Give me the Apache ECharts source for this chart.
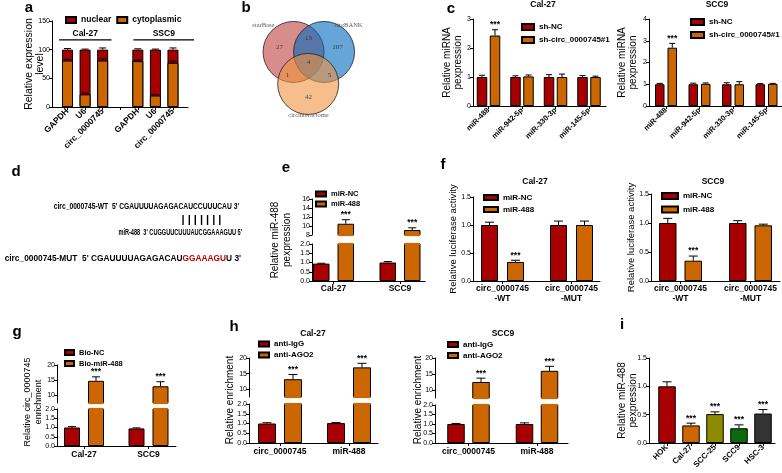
<!DOCTYPE html>
<html>
<head>
<meta charset="utf-8">
<script src="https://cdn.jsdelivr.net/npm/echarts@6.0.0/dist/echarts.min.js"></script>
<style>html,body{margin:0;padding:0;background:#fff;}#chart{width:782px;height:473px;}</style>
</head>
<body>
<div id="chart"></div>
<script>
// ================= DATA =================
// (a) nuclear / cytoplasmic fractionation
const aCategories = ['GAPDH', 'U6', 'circ_0000745', '', 'GAPDH', 'U6', 'circ_0000745'];
const aCytoplasmic = [81, 22, 81, null, 80, 20, 77];
const aCytoplasmicErr = [2, 2, 3, null, 2, 1.5, 3];
const aNuclear = [19, 78, 19, null, 20, 80, 23];
const aNuclearErr = [2, 1, 3, null, 1.5, 1, 3];
const aGroupNames = ['Cal-27', 'SSC9'];
const aSeriesNames = ['nuclear', 'cytoplasmic'];
// (b) Venn
const bSetNames = ['starBase', 'circBANK', 'circinteractome'];
const bRegionCounts = [27, 13, 107, 4, 1, 5, 42];
// (c)
const cMiRNAs = ['miR-488', 'miR-942-5p', 'miR-330-3p', 'miR-145-5p'];
const cSeriesNames = ['sh-NC', 'sh-circ_0000745#1'];
const cCal27ShNC = [1.00, 1.00, 1.00, 1.00];
const cCal27ShNCErr = [0.06, 0.04, 0.08, 0.05];
const cCal27ShCirc = [2.43, 1.02, 1.00, 1.00];
const cCal27ShCircErr = [0.20, 0.05, 0.10, 0.03];
const cSCC9ShNC = [1.00, 1.00, 1.00, 1.00];
const cSCC9ShNCErr = [0.04, 0.05, 0.07, 0.03];
const cSCC9ShCirc = [2.68, 1.02, 1.00, 1.02];
const cSCC9ShCircErr = [0.20, 0.04, 0.12, 0.02];
const cSignificance = ['***', '', '', ''];
// (d) sequences
const dSeqWT = ["circ_0000745-WT", "5' CGAUUUUAGAGACAUCCUUUCAU 3'"];
const dSeqMiR = ["miR-488", "3' CUGGUUCUUUAUCGGAAAGUU 5'"];
const dSeqMUT = ["circ_0000745-MUT", "5' CGAUUUUAGAGACAU", "GGAAAGU", "U 3'"];
// (e)
const eCells = ['Cal-27', 'SCC9'];
const eSeriesNames = ['miR-NC', 'miR-488'];
const eMiRNC = [0.94, 1.00];
const eMiRNCErr = [0.02, 0.05];
const eMiR488 = [10.5, 9.1];
const eMiR488Err = [0.9, 0.5];
const eSignificance = ['***', '***'];
// (f)
const fReporters = ['circ_0000745\n-WT', 'circ_0000745\n-MUT'];
const fCal27NC = [1.00, 1.00];
const fCal27NCErr = [0.05, 0.07];
const fCal27Mir = [0.34, 1.00];
const fCal27MirErr = [0.03, 0.07];
const fSCC9NC = [1.00, 1.00];
const fSCC9NCErr = [0.08, 0.04];
const fSCC9Mir = [0.35, 0.96];
const fSCC9MirErr = [0.08, 0.02];
const fSignificance = ['***', ''];
// (g)
const gCells = ['Cal-27', 'SCC9'];
const gSeriesNames = ['Bio-NC', 'Bio-miR-488'];
const gBioNC = [1.00, 0.95];
const gBioNCErr = [0.05, 0.03];
const gBioMir = [14.8, 13.0];
const gBioMirErr = [1.3, 1.5];
const gSignificance = ['***', '***'];
// (h)
const hTargets = ['circ_0000745', 'miR-488'];
const hSeriesNames = ['anti-IgG', 'anti-AGO2'];
const hCal27IgG = [1.00, 1.02];
const hCal27IgGErr = [0.04, 0.03];
const hCal27AGO2 = [13.2, 17.0];
const hCal27AGO2Err = [1.5, 1.3];
const hSCC9IgG = [1.00, 1.00];
const hSCC9IgGErr = [0.03, 0.06];
const hSCC9AGO2 = [12.5, 16.0];
const hSCC9AGO2Err = [1.2, 1.4];
const hSignificance = ['***', '***'];
// (i)
const iCells = ['HOK', 'Cal-27', 'SCC-25', 'SCC9', 'HSC-3'];
const iValues = [1.00, 0.31, 0.51, 0.26, 0.52];
const iErr = [0.08, 0.04, 0.04, 0.06, 0.07];
const iSignificance = ['', '***', '***', '***', '***'];

// ================= STYLE / LAYOUT =================
const F = '"Liberation Sans", Arial, Helvetica, sans-serif';
const FSERIF = '"Liberation Serif", "Times New Roman", serif';
const RED = '#A80000', ORANGE = '#CC6600';
const iColors = ['#A80000', '#CC6600', '#8C8A00', '#0B6A0B', '#333333'];

const opt = {animation: false, backgroundColor: '#ffffff', textStyle: {fontFamily: F},
  grid: [], xAxis: [], yAxis: [], series: [], legend: [], graphic: []};

function addGrid(L, R, T, B) {
  opt.grid.push({left: L, top: T, width: R - L, height: B - T, containLabel: false, outerBoundsMode: 'none'});
  return opt.grid.length - 1;
}
function addX(gi, L, R, c0, step, cats, o) {
  o = o || {};
  const idx = cats.map((c, i) => i);
  opt.xAxis.push({gridIndex: gi, type: 'value', min: (L - c0) / step, max: (R - c0) / step, show: o.show !== false,
    axisLine: {show: true, onZero: false, lineStyle: {color: '#000', width: 1}},
    axisTick: {show: true, length: 3, customValues: idx, lineStyle: {color: '#000', width: 1}},
    axisLabel: {show: true, customValues: idx.filter(i => cats[i] !== ''), formatter: v => cats[Math.round(v)] || '',
      rotate: o.rotate || 0, fontFamily: F, fontWeight: 'bold', fontSize: o.fs || 8.5, color: '#000',
      margin: o.margin == null ? 3 : o.margin, lineHeight: o.lh || 10, hideOverlap: false},
    splitLine: {show: false}});
  return opt.xAxis.length - 1;
}
function addY(gi, min, max, o) {
  const ax = {gridIndex: gi, type: 'value', min: min, max: max,
    axisLine: {show: true, onZero: false, lineStyle: {color: '#000', width: 1}},
    axisTick: {show: true, length: 3, lineStyle: {color: '#000', width: 1}},
    axisLabel: {fontFamily: F, fontSize: o.fs || 7, color: '#000', margin: 2, formatter: o.fmt || (v => String(v))},
    splitLine: {show: false}};
  if (o.interval != null) ax.interval = o.interval;
  if (o.ticks) { ax.axisTick.customValues = o.ticks; ax.axisLabel.customValues = o.ticks; }
  if (o.name) {
    Object.assign(ax, {name: o.name, nameLocation: 'middle', nameGap: o.nameGap, nameRotate: 90, nameMoveOverlap: false,
      nameTextStyle: {fontFamily: F, fontSize: o.nameFs || 10, color: '#000', lineHeight: o.nameLh || 11}});
  }
  opt.yAxis.push(ax);
  return opt.yAxis.length - 1;
}
function addBars(xi, yi, name, vals, color, w, gap, colors) {
  opt.series.push({type: 'bar', name: name, xAxisIndex: xi, yAxisIndex: yi, barWidth: w, barGap: gap, clip: true, silent: true,
    itemStyle: {color: color, borderColor: '#000', borderWidth: 1},
    data: vals.map((v, i) => v == null ? null : (colors ? {value: [i, v], itemStyle: {color: colors[i]}} : [i, v])).filter(d => d !== null)});
}
// error bars + significance marks; also hides the bar outline where a broken axis cuts a bar
function addErr(xi, yi, vals, errs, off, capW, yMin, yMax, sig, sigFs, barW, fill) {
  opt.series.push({type: 'custom', xAxisIndex: xi, yAxisIndex: yi, silent: true, clip: false, z: 5,
    encode: {x: 0, y: 1},
    data: vals.map((v, i) => v == null ? null : [i, v, errs[i]]).filter(d => d !== null),
    renderItem: function (params, api) {
      const x = api.value(0), v = api.value(1), e = api.value(2);
      const ch = [];
      const fc = Array.isArray(fill) ? fill[Math.round(x)] : fill;
      if (barW && v > yMax) {
        const pt = api.coord([x, yMax]);
        ch.push({type: 'line', shape: {x1: pt[0] + off - barW / 2 + 0.6, y1: pt[1], x2: pt[0] + off + barW / 2 - 0.6, y2: pt[1]}, style: {stroke: fc, lineWidth: 2.2}});
      }
      if (barW && yMin > 0 && v > yMin) {
        const pb = api.coord([x, yMin]);
        ch.push({type: 'line', shape: {x1: pb[0] + off - barW / 2 + 0.6, y1: pb[1], x2: pb[0] + off + barW / 2 - 0.6, y2: pb[1]}, style: {stroke: fc, lineWidth: 2.2}});
      }
      if (v >= yMin && v <= yMax) {
        const p0 = api.coord([x, v]);
        const p1 = api.coord([x, Math.min(v + e, yMax)]);
        const cx = p0[0] + off;
        ch.push({type: 'line', shape: {x1: cx, y1: p0[1], x2: cx, y2: p1[1]}, style: {stroke: '#000', lineWidth: 1}});
        ch.push({type: 'line', shape: {x1: cx - capW / 2, y1: p1[1], x2: cx + capW / 2, y2: p1[1]}, style: {stroke: '#000', lineWidth: 1}});
        const s = sig ? sig[Math.round(x)] : '';
        if (s) ch.push({type: 'text', style: {text: s, x: cx, y: p1[1] - 0.5, align: 'center', verticalAlign: 'bottom',
          font: 'bold ' + (sigFs || 8.5) + 'px ' + F, fill: '#000'}});
      }
      return {type: 'group', children: ch};
    }});
}
function panel(p) {
  const n = p.series.length;
  const gapPct = n > 1 ? (p.gap / p.w * 100) + '%' : '0%';
  p.segs.forEach((s, si) => {
    const gi = addGrid(p.L, p.R, s.T, s.B);
    const xi = addX(gi, p.L, p.R, p.c0, p.step, p.cats, Object.assign({}, p.xOpt, {show: si === 0}));
    const yi = addY(gi, s.min, s.max, s.yOpt);
    p.series.forEach((sr, k) => {
      addBars(xi, yi, sr.name, sr.vals, sr.color, p.w, gapPct, sr.colors);
      const off = (k - (n - 1) / 2) * (p.w + p.gap);
      addErr(xi, yi, sr.vals, sr.errs, off, p.capW || p.w * 0.5, s.min, s.max, sr.sig, p.sigFs,
        p.segs.length > 1 ? p.w : 0, sr.colors || sr.color);
    });
  });
}
function addLegend(names, left, top, o) {
  opt.legend.push({show: true, data: names, left: left, top: top, orient: o.orient || 'vertical', padding: 0,
    itemWidth: o.w, itemHeight: o.h, itemGap: o.gap, icon: 'rect', selectedMode: false,
    textStyle: {fontFamily: F, fontSize: o.fs, fontWeight: 'bold', color: '#000', lineHeight: o.lh}});
}
function gtext(text, x, y, o) {
  o = o || {};
  const st = {text: text, x: 0, y: 0, fill: o.color || '#000',
    font: (o.bold ? 'bold ' : '') + (o.fs || 10) + 'px ' + (o.family || F),
    align: o.align || 'center', verticalAlign: o.valign || 'middle'};
  if (o.lh) st.lineHeight = o.lh;
  if (o.rich) st.rich = o.rich;
  opt.graphic.push({type: 'text', x: x, y: y, rotation: o.rot || 0, scaleX: o.sx || 1, silent: true, style: st});
}
const FLIP = Math.PI / 2;

// ---------- (a) ----------
(function () {
  const L = 52, R = 188, c0 = 67.5, step = 17.58;
  const gi = addGrid(L, R, 21, 107);
  const xi = addX(gi, L, R, c0, step, aCategories, {rotate: 45, fs: 8.5, margin: 3});
  const yi = addY(gi, 0, 150, {interval: 50, name: 'Relative expression\nlevel', nameGap: 6, nameFs: 10.5, nameLh: 11.5});
  const totals = aCytoplasmic.map((c, i) => c == null ? null : c + aNuclear[i]);
  addBars(xi, yi, aSeriesNames[0], totals, RED, 11, '-100%');
  addBars(xi, yi, aSeriesNames[1], aCytoplasmic, ORANGE, 11, '-100%');
  addErr(xi, yi, aCytoplasmic, aCytoplasmicErr, 0, 7, 0, 150);
  addErr(xi, yi, totals, aNuclearErr, 0, 7, 0, 150);
  const groupSpan = [[-0.48, 2.5], [3.75, 7.2]];
  opt.series.push({type: 'custom', xAxisIndex: xi, yAxisIndex: yi, silent: true, clip: false,
    encode: {x: [0, 1], y: 2},
    data: aGroupNames.map((g, k) => [groupSpan[k][0], groupSpan[k][1], 117]),
    renderItem: function (params, api) {
      const p0 = api.coord([api.value(0), api.value(2)]), p1 = api.coord([api.value(1), api.value(2)]);
      return {type: 'group', children: [
        {type: 'line', shape: {x1: p0[0], y1: p0[1], x2: p1[0], y2: p1[1]}, style: {stroke: '#000', lineWidth: 1.3}},
        {type: 'text', style: {text: aGroupNames[params.dataIndex], x: (p0[0] + p1[0]) / 2, y: p0[1] - 2,
          align: 'center', verticalAlign: 'bottom', font: 'bold 8.5px ' + F, fill: '#000'}}]};
    }});
  addLegend(aSeriesNames, 65, 15, {orient: 'horizontal', w: 10, h: 6, gap: 5, fs: 8.5, lh: 10});
})();

// ---------- (b) Venn ----------
(function () {
  const V = {L: 217, R: 400, T: 1, B: 123, diam: 61,
    centers: [[-0.49, 0.33], [0.51, 0.33], [-0.01, -0.72]],
    labelPos: [[-1.48, 1.21], [1.31, 1.21], [0, -1.74]],
    regionPos: [[-0.95, 0.49], [0, 0.79], [0.95, 0.49], [0, 0], [-0.69, -0.43], [0.69, -0.43], [0, -1.15]],
    colors: ['rgba(192,63,63,0.6)', 'rgba(0,105,188,0.6)', 'rgba(238,147,63,0.6)']};
  const gi = addGrid(V.L, V.R, V.T, V.B);
  opt.xAxis.push({gridIndex: gi, type: 'value', min: -3, max: 3, show: false});
  opt.yAxis.push({gridIndex: gi, type: 'value', min: -2, max: 2, show: false});
  const xi = opt.xAxis.length - 1, yi = opt.yAxis.length - 1;
  bSetNames.forEach((nm, k) => opt.series.push({type: 'scatter', name: nm, xAxisIndex: xi, yAxisIndex: yi,
    symbol: 'circle', symbolSize: V.diam, clip: false, silent: true,
    itemStyle: {color: V.colors[k], borderColor: '#222', borderWidth: 0.8, opacity: 1}, data: [V.centers[k]]}));
  opt.series.push({type: 'scatter', name: 'counts', xAxisIndex: xi, yAxisIndex: yi, symbolSize: 1, clip: false, silent: true,
    itemStyle: {color: 'rgba(0,0,0,0)'}, z: 10,
    data: bRegionCounts.map((c, k) => ({value: V.regionPos[k], name: String(c)})),
    label: {show: true, position: 'inside', formatter: '{b}', fontFamily: FSERIF, fontSize: 7, color: '#222'}});
  opt.series.push({type: 'scatter', name: 'setLabels', xAxisIndex: xi, yAxisIndex: yi, symbolSize: 1, clip: false, silent: true,
    itemStyle: {color: 'rgba(0,0,0,0)'}, z: 10,
    data: bSetNames.map((s, k) => ({value: V.labelPos[k], name: s})),
    label: {show: true, position: 'inside', formatter: '{b}', fontFamily: FSERIF, fontSize: 6.5, color: '#333'}});
})();

// ---------- (c) ----------
panel({L: 473, R: 606, c0: 488.5, step: 33.5, cats: cMiRNAs, w: 10.5, gap: 2.5, capW: 6,
  xOpt: {rotate: 45, fs: 7.5, margin: 3},
  segs: [{T: 19, B: 106, min: 0, max: 3, yOpt: {interval: 1, name: 'Relative miRNA\npexpression', nameGap: 10, nameFs: 10, nameLh: 10.5}}],
  series: [{name: cSeriesNames[0], vals: cCal27ShNC, errs: cCal27ShNCErr, color: RED},
           {name: cSeriesNames[1], vals: cCal27ShCirc, errs: cCal27ShCircErr, color: ORANGE, sig: cSignificance}]});
panel({L: 649, R: 782, c0: 666, step: 33.5, cats: cMiRNAs, w: 9.5, gap: 3, capW: 6,
  xOpt: {rotate: 45, fs: 7.5, margin: 3},
  segs: [{T: 19, B: 106, min: 0, max: 4, yOpt: {interval: 1, name: 'Relative miRNA\npexpression', nameGap: 11, nameFs: 10, nameLh: 10.5}}],
  series: [{name: cSeriesNames[0], vals: cSCC9ShNC, errs: cSCC9ShNCErr, color: RED},
           {name: cSeriesNames[1], vals: cSCC9ShCirc, errs: cSCC9ShCircErr, color: ORANGE, sig: cSignificance}]});
addLegend(cSeriesNames, 521, 22, {w: 12, h: 6, gap: 3, fs: 8, lh: 10});
addLegend(cSeriesNames, 690, 17, {w: 13, h: 6, gap: 3, fs: 8, lh: 10});

// ---------- (e) ----------
panel({L: 312, R: 425, c0: 333.5, step: 66.5, cats: eCells, w: 16.5, gap: 8, capW: 8,
  xOpt: {fs: 8.5, margin: 3},
  segs: [{T: 244, B: 281, min: 0, max: 2, yOpt: {interval: 0.5, fmt: v => v.toFixed(1)}},
         {T: 199, B: 235, min: 8, max: 16, yOpt: {interval: 2}}],
  series: [{name: eSeriesNames[0], vals: eMiRNC, errs: eMiRNCErr, color: RED},
           {name: eSeriesNames[1], vals: eMiR488, errs: eMiR488Err, color: ORANGE, sig: eSignificance}]});
addLegend(eSeriesNames, 315, 189.5, {w: 10, h: 5, gap: 1, fs: 7.5, lh: 9});

// ---------- (f) ----------
panel({L: 473, R: 600, c0: 502.5, step: 69, cats: fReporters, w: 17, gap: 9, capW: 9,
  xOpt: {fs: 8.5, margin: 3, lh: 10},
  segs: [{T: 197, B: 281, min: 0, max: 1.5, yOpt: {interval: 0.5, fmt: v => v.toFixed(1), name: 'Relative luciferase activity', nameGap: 14, nameFs: 9.5}}],
  series: [{name: eSeriesNames[0], vals: fCal27NC, errs: fCal27NCErr, color: RED},
           {name: eSeriesNames[1], vals: fCal27Mir, errs: fCal27MirErr, color: ORANGE, sig: fSignificance}]});
panel({L: 651, R: 780, c0: 680.5, step: 70, cats: fReporters, w: 17.5, gap: 8, capW: 9,
  xOpt: {fs: 8.5, margin: 3, lh: 10},
  segs: [{T: 194, B: 281, min: 0, max: 1.5, yOpt: {interval: 0.5, fmt: v => v.toFixed(1), name: 'Relative luciferase activity', nameGap: 14, nameFs: 9.5}}],
  series: [{name: eSeriesNames[0], vals: fSCC9NC, errs: fSCC9NCErr, color: RED},
           {name: eSeriesNames[1], vals: fSCC9Mir, errs: fSCC9MirErr, color: ORANGE, sig: fSignificance}]});
addLegend(eSeriesNames, 483, 192.5, {w: 14, h: 5, gap: 2, fs: 8, lh: 10});
addLegend(eSeriesNames, 661, 191, {w: 16, h: 6, gap: 3.5, fs: 8, lh: 10});

// ---------- (g) ----------
panel({L: 57, R: 176, c0: 84, step: 64.5, cats: gCells, w: 16, gap: 8, capW: 8,
  xOpt: {fs: 8.5, margin: 4},
  segs: [{T: 409, B: 446, min: 0, max: 2, yOpt: {interval: 0.5, fmt: v => v.toFixed(1)}},
         {T: 365, B: 403, min: 7.5, max: 20, yOpt: {ticks: [10, 15, 20]}}],
  series: [{name: gSeriesNames[0], vals: gBioNC, errs: gBioNCErr, color: RED},
           {name: gSeriesNames[1], vals: gBioMir, errs: gBioMirErr, color: ORANGE, sig: gSignificance}]});
addLegend(gSeriesNames, 64, 347.5, {w: 9, h: 5, gap: 1, fs: 7.5, lh: 10});

// ---------- (h) ----------
panel({L: 249, R: 378, c0: 280, step: 69, cats: hTargets, w: 18, gap: 8, capW: 9,
  xOpt: {fs: 8.5, margin: 4},
  segs: [{T: 404, B: 443, min: 0, max: 2, yOpt: {interval: 0.5, fmt: v => v.toFixed(1)}},
         {T: 358, B: 397, min: 7.5, max: 20, yOpt: {ticks: [10, 15, 20]}}],
  series: [{name: hSeriesNames[0], vals: hCal27IgG, errs: hCal27IgGErr, color: RED},
           {name: hSeriesNames[1], vals: hCal27AGO2, errs: hCal27AGO2Err, color: ORANGE, sig: hSignificance}]});
panel({L: 435, R: 568, c0: 468.5, step: 68.5, cats: hTargets, w: 17.5, gap: 7.5, capW: 9,
  xOpt: {fs: 8.5, margin: 4},
  segs: [{T: 405, B: 443, min: 0, max: 2, yOpt: {interval: 0.5, fmt: v => v.toFixed(1)}},
         {T: 358, B: 398, min: 7.5, max: 20, yOpt: {ticks: [10, 15, 20]}}],
  series: [{name: hSeriesNames[0], vals: hSCC9IgG, errs: hSCC9IgGErr, color: RED},
           {name: hSeriesNames[1], vals: hSCC9AGO2, errs: hSCC9AGO2Err, color: ORANGE, sig: hSignificance}]});
addLegend(hSeriesNames, 258, 339, {w: 10, h: 5, gap: 1, fs: 8, lh: 10});
addLegend(hSeriesNames, 447, 339.5, {w: 10, h: 5, gap: 1, fs: 8, lh: 10});

// ---------- (i) ----------
panel({L: 649, R: 775, c0: 667, step: 24, cats: iCells, w: 17.5, gap: 0, capW: 9,
  xOpt: {rotate: 45, fs: 8, margin: 3},
  segs: [{T: 358, B: 443, min: 0, max: 1.5, yOpt: {interval: 0.5, fmt: v => v.toFixed(1), name: 'Relative miR-488\npexpression', nameGap: 11, nameFs: 10, nameLh: 10.5}}],
  series: [{name: 'miR-488 level', vals: iValues, errs: iErr, color: RED, colors: iColors, sig: iSignificance}]});

// ---------- free text: panel letters, titles, broken-axis titles, sequences ----------
[['a', 29, 8], ['b', 246, 8], ['c', 451, 9], ['d', 16, 172], ['e', 286, 168], ['f', 443, 165],
 ['g', 17, 332], ['h', 234, 327], ['i', 622, 325]].forEach(t => gtext(t[0], t[1], t[2], {bold: true, fs: 15}));
gtext('Cal-27', 543, 5, {bold: true, fs: 8.5});
gtext('SCC9', 717, 5, {bold: true, fs: 8.5});
gtext('Cal-27', 535, 182, {bold: true, fs: 8.5});
gtext('SCC9', 713, 182, {bold: true, fs: 8.5});
gtext('Cal-27', 313, 334, {bold: true, fs: 8.5});
gtext('SCC9', 503, 334, {bold: true, fs: 8.5});
gtext('Relative miR-488\npexpression', 281, 240, {fs: 10, lh: 11.5, rot: FLIP});
gtext('Relative circ_0000745\nenrichment', 33, 402, {fs: 9, lh: 10.5, rot: FLIP});
gtext('Relative enrichment', 230, 400, {fs: 10, rot: FLIP});
gtext('Relative enrichment', 418, 400, {fs: 10, rot: FLIP});
// (d) sequences (each line right-aligned; horizontal scale matches the reference line widths)
gtext(dSeqWT[0] + '  ' + dSeqWT[1], 239, 207, {bold: true, fs: 8.5, align: 'right', sx: 0.79});
gtext('| | | | | | |', 201.5, 220, {bold: true, fs: 11});
gtext(dSeqMiR[0] + '  ' + dSeqMiR[1], 242, 233, {bold: true, fs: 8.5, align: 'right', sx: 0.66});
gtext('{n|' + dSeqMUT[0] + '  ' + dSeqMUT[1] + '}{r|' + dSeqMUT[2] + '}{n|' + dSeqMUT[3] + '}', 241, 259,
  {bold: true, fs: 8.5, align: 'right', sx: 0.98,
   rich: {n: {font: 'bold 8.5px ' + F, fill: '#000'}, r: {font: 'bold 8.5px ' + F, fill: '#C00000'}}});

const chart = echarts.init(document.getElementById('chart'), null, {renderer: 'canvas', width: 782, height: 473});
chart.setOption(opt);
</script>
</body>
</html>
